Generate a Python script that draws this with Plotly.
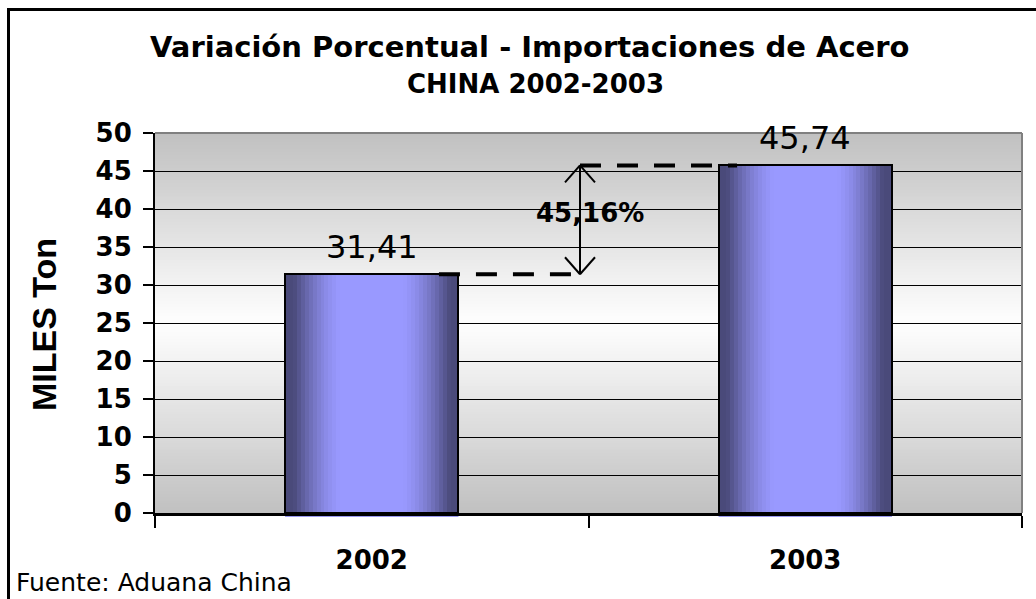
import plotly.graph_objects as go

# Importaciones de acero de China (miles de toneladas)
anios = ["2002", "2003"]
importaciones = [31.41, 45.74]
variacion_pct = 45.16
y_ticks = [0, 5, 10, 15, 20, 25, 30, 35, 40, 45, 50]

titulo_1 = "Variación Porcentual - Importaciones de Acero"
titulo_2 = "CHINA 2002-2003"
titulo_y = "MILES Ton"
fuente = "Fuente: Aduana China"

W, H = 1036, 599
ML, MR, MT, MB = 155, 14, 133, 86
PW = W - ML - MR
PH = H - MT - MB


def fx(px):
    """pixel column -> paper x"""
    return (px - ML) / PW


def fy(py):
    """pixel row -> paper y"""
    return (H - MB - py) / PH


def num(v, dec=2):
    return f"{v:.{dec}f}".replace(".", ",")


FONT = "DejaVu Sans"
fig = go.Figure()

# ---- bars: vertical strips give the horizontal shading of each bar ----
BAR_W = 0.4
N_STRIPS = 44
DARK = (74, 74, 122)
LIGHT = (153, 153, 255)


def strip_color(t):
    d = abs(t - 0.5) * 2
    f = min(max((d - 0.35) / 0.55, 0.0), 1.0) ** 1.5
    return "rgb(%d,%d,%d)" % tuple(round(l + (k - l) * f) for l, k in zip(LIGHT, DARK))


step = BAR_W / N_STRIPS
for i in range(N_STRIPS):
    w = step * 1.6 if i < N_STRIPS - 1 else step
    fig.add_trace(go.Bar(
        x=anios, y=importaciones, width=w, offset=-BAR_W / 2 + i * step,
        marker=dict(color=strip_color((i + 0.5) / N_STRIPS), line=dict(width=0)),
        hoverinfo="skip", showlegend=False,
    ))

# outline of each bar
fig.add_trace(go.Bar(
    x=anios, y=importaciones, width=BAR_W, offset=-BAR_W / 2,
    marker=dict(color="rgba(0,0,0,0)", line=dict(color="black", width=2)),
    hoverinfo="skip", showlegend=False,
))

shapes = []

# ---- plot-area background: grey -> white -> grey vertical gradient ----
N_BANDS = 120
for k in range(N_BANDS):
    y0 = 50 * k / N_BANDS
    y1 = min(50, 50 * (k + 1.7) / N_BANDS)
    yc = 50 * (k + 0.5) / N_BANDS
    g = round(192 + 63 * (1 - abs(yc - 25) / 25))
    shapes.append(dict(type="rect", xref="paper", yref="y", x0=0, x1=1, y0=y0, y1=y1,
                       fillcolor=f"rgb({g},{g},{g})", line=dict(width=0), layer="below"))

# grey border on top and right of the plot area
shapes.append(dict(type="line", xref="paper", yref="paper", x0=0, x1=1, y0=1, y1=1,
                   line=dict(color="#808080", width=2), layer="above"))
shapes.append(dict(type="line", xref="paper", yref="paper", x0=1, x1=1, y0=0, y1=1,
                   line=dict(color="#808080", width=2), layer="above"))

# thin light base under each bar, just below the category axis
for idx in range(len(anios)):
    shapes.append(dict(type="rect", xref="x", yref="paper",
                       x0=idx - BAR_W / 2, x1=idx + BAR_W / 2, y0=fy(517), y1=fy(513),
                       fillcolor="#9a9af0", line=dict(width=0), layer="below"))

# ---- dashed level lines and double arrow showing the variation ----
ARROW_X = 0.4804
DASH = "21px,16px"
shapes.append(dict(type="line", xref="x", yref="y", x0=0.155, x1=0.464,
                   y0=importaciones[0], y1=importaciones[0],
                   line=dict(color="black", width=4, dash=DASH), layer="above"))
shapes.append(dict(type="line", xref="x", yref="y", x0=ARROW_X, x1=0.8426,
                   y0=importaciones[1], y1=importaciones[1],
                   line=dict(color="black", width=4, dash=DASH), layer="above"))
shapes.append(dict(type="line", xref="x", yref="y", x0=ARROW_X, x1=ARROW_X,
                   y0=importaciones[0], y1=importaciones[1],
                   line=dict(color="black", width=2), layer="above"))
for val, sgn in ((importaciones[1], -1), (importaciones[0], 1)):
    for side in (-1, 1):
        shapes.append(dict(type="line", xref="x", yref="y",
                           xsizemode="pixel", ysizemode="pixel",
                           xanchor=ARROW_X, yanchor=val,
                           x0=15 * side, y0=17 * sgn, x1=0, y1=0,
                           line=dict(color="black", width=2), layer="above"))

# outer frame of the chart
shapes.append(dict(type="rect", xref="paper", yref="paper",
                   x0=fx(8.5), x1=fx(1050), y0=fy(620), y1=fy(9.5),
                   line=dict(color="black", width=3), fillcolor="rgba(0,0,0,0)"))

annotations = []
# value labels above the bars (category index as x position)
for idx, v in enumerate(importaciones):
    annotations.append(dict(x=idx, y=v, xref="x", yref="y", text=num(v), showarrow=False,
                            xanchor="center", yanchor="middle", yshift=27,
                            font=dict(family=FONT, size=32, color="black")))

annotations.append(dict(x=ARROW_X, y=39.5, xref="x", yref="y", xshift=10,
                        text=num(variacion_pct) + "%", showarrow=False,
                        font=dict(family=FONT, size=26, color="black", weight="bold")))

annotations.append(dict(x=fx(529), y=fy(47), xref="paper", yref="paper", text=titulo_1,
                        showarrow=False, xanchor="center", yanchor="middle",
                        font=dict(family=FONT, size=29, color="black", weight="bold")))
annotations.append(dict(x=fx(535), y=fy(84), xref="paper", yref="paper", text=titulo_2,
                        showarrow=False, xanchor="center", yanchor="middle",
                        font=dict(family=FONT, size=26, color="black", weight="bold")))
annotations.append(dict(x=fx(44), y=fy(325), xref="paper", yref="paper", text=titulo_y,
                        showarrow=False, textangle=-90, xanchor="center", yanchor="middle",
                        font=dict(family="Liberation Sans, Arial", size=34,
                                  color="black", weight="bold")))
annotations.append(dict(x=fx(14), y=fy(582), xref="paper", yref="paper", text=fuente,
                        showarrow=False, xanchor="left", yanchor="middle",
                        font=dict(family=FONT, size=25, color="black")))

fig.update_layout(
    width=W, height=H,
    margin=dict(l=ML, r=MR, t=MT, b=MB, pad=0),
    paper_bgcolor="white", plot_bgcolor="white",
    barmode="overlay", bargap=0, showlegend=False,
    shapes=shapes, annotations=annotations,
    font=dict(family=FONT, color="black"),
)
fig.update_xaxes(
    type="category", range=[-0.5, 1.5], tickson="boundaries",
    ticks="outside", ticklen=12, tickwidth=2, tickcolor="black",
    showline=True, linecolor="black", linewidth=3, showgrid=False,
    tickfont=dict(family=FONT, size=26, color="black", weight="bold"),
    ticklabelstandoff=22, fixedrange=True,
)
fig.update_yaxes(
    range=[0, 50], tickvals=y_ticks, ticks="outside", ticklen=10, tickwidth=2,
    tickcolor="black", showline=True, linecolor="black", linewidth=2,
    showgrid=True, gridcolor="black", gridwidth=1, zeroline=False,
    tickfont=dict(family=FONT, size=26, color="black", weight="bold"),
    ticklabelstandoff=6, fixedrange=True,
)

fig.write_html("out.html", config={"displayModeBar": False})
